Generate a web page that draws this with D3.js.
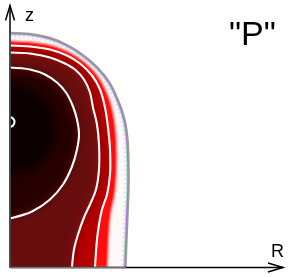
<!DOCTYPE html>
<html>
<head>
<meta charset="utf-8">
<script src="https://cdn.jsdelivr.net/npm/d3@7"></script>
<style>
  body { margin: 0; background: #fff; }
  svg { display: block; }
</style>
</head>
<body>
<div class="svg-area"></div>
<script>
// contours, points are [R, z]
let boundary = [[0,2.35],[0.2,2.34],[0.4,2.30],[0.57,2.23],[0.73,2.13],[0.88,2.0],[1.0,1.85],[1.09,1.66],
    [1.15,1.48],[1.18,1.28],[1.19,1.03],[1.19,0.78],[1.18,0.53],[1.17,0.28],[1.16,0]];
let edgeRed = [[0,2.27],[0.2,2.26],[0.4,2.23],[0.57,2.17],[0.72,2.08],[0.85,1.96],[0.94,1.82],[1.01,1.65],
    [1.05,1.46],[1.07,1.23],[1.07,0.98],[1.05,0.73],[1.01,0.53],[0.99,0.28],[0.98,0]];
let contour25 = [[0,2.22],[0.2,2.21],[0.4,2.18],[0.57,2.12],[0.7,2.04],[0.82,1.92],[0.9,1.78],[0.95,1.6],
    [0.98,1.4],[1.0,1.18],[1.0,0.93],[0.97,0.73],[0.92,0.58],[0.89,0.43],[0.87,0.28],[0.85,0]];
let contour50 = [[0,2.15],[0.2,2.14],[0.4,2.10],[0.55,2.04],[0.65,1.98],[0.74,1.88],[0.8,1.75],[0.83,1.6],
    [0.87,1.43],[0.89,1.23],[0.89,0.98],[0.86,0.78],[0.8,0.63],[0.74,0.5],[0.68,0.33],[0.64,0.18],[0.62,0]];
let contour75 = [[0,2.0],[0.2,1.98],[0.35,1.93],[0.47,1.85],[0.56,1.75],[0.63,1.61],[0.67,1.48],[0.69,1.33],
    [0.67,1.18],[0.62,1.01],[0.53,0.83],[0.4,0.68],[0.22,0.56],[0,0.49]];
let core = [[0,1.86],[0.18,1.82],[0.33,1.72],[0.43,1.57],[0.47,1.41],[0.44,1.23],[0.34,1.06],[0.17,0.95],[0,0.92]];
let peak = [[0,1.505],[0.03,1.49],[0.045,1.455],[0.03,1.42],[0,1.405]];

let levelValues = [0, 0.15, 0.25, 0.5, 0.75, 0.92, 0.99];
let levelColors = ["#fff8f8", "#ff0a0a", "#b40303", "#680707", "#250303", "#070000", "#050000"];
let levelShapes = [boundary, edgeRed, contour25, contour50, contour75, core, peak];
let drawnLevels = [0.25, 0.5, 0.75, 0.99];

let axisLabels = ["R", "z"];
let title = '"P"';

let width = 288, height = 277;

let svg = d3.select(".svg-area").append("svg")
    .attr("width", width)
    .attr("height", height)

let x = d3.scaleLinear().domain([0, 2.73]).range([10, 283]);
let y = d3.scaleLinear().domain([0, 2.62]).range([267.5, 5.5]);
let color = d3.scaleLinear().domain(levelValues).range(levelColors);

let line = d3.line()
    .x(d => x(d[0]))
    .y(d => y(d[1]))
    .curve(d3.curveCatmullRom);

// closed area inside a contour, closed along the axes
function area(pts) {
    let last = pts[pts.length - 1];
    let s = line(pts);
    if (last[1] === 0 && last[0] > 0) s += "L" + x(0) + "," + y(0);
    return s + "Z";
}

let levels = levelValues.map((v, i) => ({value: v, pts: levelShapes[i]}));

let defs = svg.append("defs");
defs.append("clipPath").attr("id", "inside")
    .append("path").attr("d", area(boundary));
function blur(id, sd) {
    defs.append("filter").attr("id", id)
        .attr("x", "-20%").attr("y", "-20%").attr("width", "140%").attr("height", "140%")
        .append("feGaussianBlur").attr("stdDeviation", sd);
}
blur("softOuter", 1.2);
blur("softInner", 4.5);

// the field, mirrored over both axes so the blur stays even at the edges
let field = svg.append("g").attr("clip-path", "url(#inside)");
let x0 = x(0), y0 = y(0);
function drawField(data, filter) {
    let f = field.append("g").attr("filter", "url(#" + filter + ")");
    [[1, 1], [-1, 1], [1, -1], [-1, -1]].forEach(function (m) {
        let g = f.append("g")
            .attr("transform", "translate(" + x0 + "," + y0 + ") scale(" + m[0] + "," + m[1] + ") translate(" + (-x0) + "," + (-y0) + ")");
        g.selectAll("path").data(data).enter().append("path")
            .attr("d", d => area(d.pts))
            .attr("fill", d => color(d.value));
    });
}
drawField(levels.filter(d => d.value < 0.5), "softOuter");
drawField(levels.filter(d => d.value >= 0.5), "softInner");

// white contour lines
svg.append("g").selectAll("path")
    .data(levels.filter(d => drawnLevels.includes(d.value)))
    .enter().append("path")
    .attr("d", d => line(d.pts))
    .attr("fill", "none")
    .attr("stroke", "#fff")
    .attr("stroke-width", 2.1);

// the thin edge contours hugging the border
let rim = svg.append("g").attr("clip-path", "url(#inside)").attr("fill", "none");
rim.append("path").attr("d", line(boundary))
    .attr("stroke", "#f8d8dc").attr("stroke-width", 10).attr("stroke-dasharray", "1.5,3");
rim.append("path").attr("d", line(boundary))
    .attr("stroke", "#9ee0da").attr("stroke-width", 5.6);
rim.append("path").attr("d", line(boundary))
    .attr("stroke", "#a77ad6").attr("stroke-width", 3.6);
svg.append("path").attr("d", line(boundary))
    .attr("fill", "none").attr("stroke", "#a09d88").attr("stroke-width", 1.4);

// axes with open arrow heads
let ax = svg.append("g")
    .attr("fill", "none")
    .attr("stroke", "#000")
    .attr("stroke-width", 1.5);
ax.append("line").attr("x1", x(0)).attr("y1", y(0)).attr("x2", x(2.73)).attr("y2", y(0));
ax.append("line").attr("x1", x(0)).attr("y1", y(0)).attr("x2", x(0)).attr("y2", y(2.62));
ax.append("path").attr("d", "M" + (x(2.73) - 15) + "," + (y(0) - 4.5) + "L" + x(2.73) + "," + y(0) + "L" + (x(2.73) - 15) + "," + (y(0) + 4.5));
ax.append("path").attr("d", "M" + (x(0) - 4.5) + "," + (y(2.62) + 15) + "L" + x(0) + "," + y(2.62) + "L" + (x(0) + 4.5) + "," + (y(2.62) + 15));

// frame of the field is grey
svg.append("line").attr("x1", x(0)).attr("y1", y(0)).attr("x2", x(boundary[boundary.length - 1][0])).attr("y2", y(0))
    .attr("stroke", "#707070").attr("stroke-width", 1.6);
svg.append("line").attr("x1", x(0)).attr("y1", y(0)).attr("x2", x(0)).attr("y2", y(boundary[0][1]))
    .attr("stroke", "#505050").attr("stroke-width", 1.6);

svg.append("text").text(axisLabels[0])
    .attr("x", 271).attr("y", 257)
    .attr("font-family", "Liberation Sans, Arial, sans-serif")
    .attr("font-size", 18);
svg.append("text").text(axisLabels[1])
    .attr("x", 25).attr("y", 21)
    .attr("font-family", "Liberation Sans, Arial, sans-serif")
    .attr("font-size", 18);
svg.append("text").text(title)
    .attr("x", 229).attr("y", 45)
    .attr("font-family", "Liberation Sans, Arial, sans-serif")
    .attr("font-size", 34);
</script>
</body>
</html>
